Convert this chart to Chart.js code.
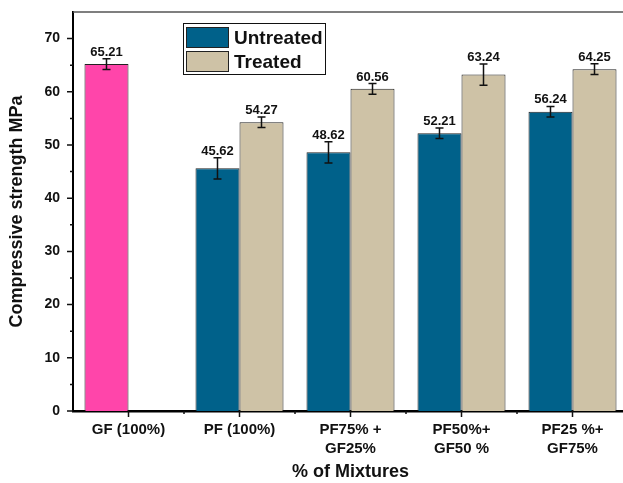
<!DOCTYPE html>
<html>
<head>
<meta charset="utf-8">
<title>Compressive strength</title>
<script src="https://cdn.jsdelivr.net/npm/chart.js@4.4.1/dist/chart.umd.min.js"></script>
<style>
  html, body { margin: 0; padding: 0; background: #fff; overflow: hidden; }
  #chart { display: block; }
</style>
</head>
<body>
<canvas id="chart" width="628" height="483"></canvas>
<script>
const mixtures = ["GF (100%)", "PF (100%)", ["PF75% +", "GF25%"], ["PF50%+", "GF50 %"], ["PF25 %+", "GF75%"]];
const untreated = [65.21, 45.62, 48.62, 52.21, 56.24];
const untreatedErr = [1.0, 2.0, 2.0, 1.0, 1.0];
const treated = [null, 54.27, 60.56, 63.24, 64.25];
const treatedErr = [null, 1.0, 1.0, 2.0, 1.0];
const yTicks = [0, 10, 20, 30, 40, 50, 60, 70];
const yMinorTicks = [5, 15, 25, 35, 45, 55, 65];

const BLUE = "#00618A";
const TAN = "#CEC2A6";
const PINK = "#FF45AA";
const FONT = "'Liberation Sans', Arial, sans-serif";

// error bars plus the value printed above each one
const errorBars = {
  id: "errorBars",
  afterDatasetsDraw(chart) {
    const ctx = chart.ctx;
    const y = chart.scales.y;
    ctx.save();
    chart.data.datasets.forEach((ds, i) => {
      const meta = chart.getDatasetMeta(i);
      meta.data.forEach((bar, j) => {
        const v = ds.data[j];
        if (v == null) return;
        const e = ds.errors[j];
        const top = y.getPixelForValue(v + e);
        const bot = y.getPixelForValue(v - e);
        ctx.strokeStyle = "#111";
        ctx.lineWidth = 1.5;
        ctx.beginPath();
        ctx.moveTo(bar.x, top); ctx.lineTo(bar.x, bot);
        ctx.moveTo(bar.x - 4, top); ctx.lineTo(bar.x + 4, top);
        ctx.moveTo(bar.x - 4, bot); ctx.lineTo(bar.x + 4, bot);
        ctx.stroke();
        ctx.fillStyle = "#111";
        ctx.font = "bold 13px " + FONT;
        ctx.textAlign = "center";
        ctx.textBaseline = "alphabetic";
        ctx.fillText(v.toFixed(2), bar.x, top - 3);
      });
    });
    ctx.restore();
  }
};

// tick marks, the top frame line and the boxed legend
const frame = {
  id: "frame",
  afterDraw(chart) {
    const ctx = chart.ctx;
    const { left, right, top, bottom } = chart.chartArea;
    const x = chart.scales.x;
    const y = chart.scales.y;
    ctx.save();

    ctx.strokeStyle = "#555";
    ctx.lineWidth = 1.5;
    ctx.beginPath();
    ctx.moveTo(left, top); ctx.lineTo(right + 5, top);
    ctx.stroke();

    ctx.strokeStyle = "#111";
    ctx.lineWidth = 1.5;
    ctx.beginPath();
    yTicks.forEach(v => { const p = y.getPixelForValue(v); ctx.moveTo(left - 6, p); ctx.lineTo(left, p); });
    yMinorTicks.forEach(v => { const p = y.getPixelForValue(v); ctx.moveTo(left - 3, p); ctx.lineTo(left, p); });
    mixtures.forEach((m, i) => {
      const p = x.getPixelForValue(i);
      ctx.moveTo(p, bottom); ctx.lineTo(p, bottom + 6);
      if (i > 0) {
        const b = (x.getPixelForValue(i - 1) + p) / 2;
        ctx.moveTo(b, bottom); ctx.lineTo(b, bottom + 3);
      }
    });
    ctx.stroke();

    // legend
    const lx = 183.5, ly = 23.5, lw = 142, lh = 51;
    ctx.fillStyle = "#fff";
    ctx.fillRect(lx, ly, lw, lh);
    ctx.strokeStyle = "#111";
    ctx.lineWidth = 1;
    ctx.strokeRect(lx, ly, lw, lh);
    chart.data.datasets.forEach((ds, i) => {
      const sy = 27.5 + i * 24;
      ctx.fillStyle = ds.legendColor;
      ctx.fillRect(186.5, sy, 42, 20);
      ctx.strokeStyle = "#222";
      ctx.strokeRect(186.5, sy, 42, 20);
      ctx.fillStyle = "#111";
      ctx.font = "bold 19px " + FONT;
      ctx.textAlign = "left";
      ctx.textBaseline = "middle";
      ctx.fillText(ds.label, 234, sy + 11);
    });
    ctx.restore();
  }
};

new Chart(document.getElementById("chart"), {
  type: "bar",
  data: {
    labels: mixtures,
    datasets: [
      {
        label: "Untreated",
        data: untreated,
        errors: untreatedErr,
        legendColor: BLUE,
        backgroundColor: untreated.map((v, i) => (i === 0 ? PINK : BLUE)),
        borderColor: "#222",
        borderWidth: 1,
        categoryPercentage: 0.793,
        barPercentage: 1
      },
      {
        label: "Treated",
        data: treated,
        errors: treatedErr,
        legendColor: TAN,
        backgroundColor: TAN,
        borderColor: "#222",
        borderWidth: 1,
        categoryPercentage: 0.793,
        barPercentage: 1
      }
    ]
  },
  options: {
    responsive: false,
    animation: false,
    devicePixelRatio: 1,
    layout: { padding: { top: 12, right: 0, left: 0, bottom: 0 } },
    plugins: {
      legend: { display: false },
      tooltip: { enabled: false }
    },
    scales: {
      x: {
        grid: { display: false, drawTicks: false },
        border: { display: true, color: "#000", width: 2.5 },
        ticks: {
          color: "#111",
          padding: 9.5,
          maxRotation: 0,
          autoSkip: false,
          font: { family: FONT, size: 15, weight: "bold", lineHeight: "19px" }
        },
        title: {
          display: true,
          text: "% of Mixtures",
          color: "#111",
          padding: { top: 0, bottom: 0 },
          font: { family: FONT, size: 18, weight: "bold" }
        },
        afterFit(scale) { scale.height = 72; }
      },
      y: {
        min: 0,
        max: 75,
        grid: { display: false, drawTicks: false },
        border: { display: true, color: "#000", width: 2 },
        afterBuildTicks(scale) { scale.ticks = yTicks.map(v => ({ value: v })); },
        ticks: {
          color: "#111",
          padding: 13,
          font: { family: FONT, size: 14, weight: "bold" }
        },
        title: {
          display: true,
          text: "Compressive strength MPa",
          color: "#111",
          padding: { top: 6, bottom: 0 },
          font: { family: FONT, size: 18, weight: "bold" }
        },
        afterFit(scale) {
          scale.width = 73;
          scale.paddingTop = 0;
          scale.paddingBottom = 0;
        }
      }
    }
  },
  plugins: [errorBars, frame]
});
</script>
</body>
</html>
